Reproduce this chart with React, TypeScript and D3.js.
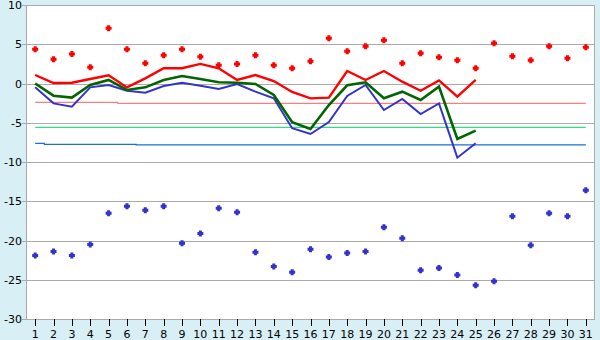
import React from "react";
import * as d3 from "d3";

const days = d3.range(1, 32).map(String);
const redPoints = [4.36, 3.08, 3.76, 2.06, 7.03, 4.36, 2.57, 3.59, 4.36, 3.4, 2.32, 2.48, 3.59, 2.32, 1.94, 2.83, 5.76, 4.1, 4.74, 5.5, 2.57, 3.85, 3.34, 2.96, 1.94, 5.12, 3.46, 2.96, 4.74, 3.21, 4.61];
const bluePoints = [-21.9, -21.4, -21.9, -20.5, -16.54, -15.65, -16.16, -15.65, -20.36, -19.1, -15.9, -16.4, -21.5, -23.3, -24.05, -21.1, -22.1, -21.6, -21.4, -18.3, -19.7, -23.8, -23.5, -24.4, -25.7, -25.2, -16.9, -20.6, -16.54, -16.9, -13.6];
const redLine = [1.08, 0.06, 0.1, 0.57, 1.04, -0.5, 0.66, 1.94, 1.94, 2.5, 1.94, 0.45, 1.08, 0.32, -1.08, -1.89, -1.8, 1.59, 0.45, 1.59, 0.23, -0.92, 0.4, -1.68, 0.45];
const greenLine = [0.0, -1.55, -1.8, -0.19, 0.45, -0.83, -0.49, 0.45, 0.96, 0.57, 0.15, 0.1, -0.06, -1.46, -4.94, -5.8, -2.74, -0.23, 0.15, -1.89, -1.04, -2.1, -0.4, -7.07, -6.0];
const blueLine = [-0.49, -2.53, -2.95, -0.49, -0.19, -0.92, -1.17, -0.32, 0.1, -0.3, -0.7, -0.06, -1.04, -1.89, -5.7, -6.43, -4.9, -1.59, -0.19, -3.38, -1.97, -3.89, -2.53, -9.45, -7.62];
const pinkRef = [-2.4, -2.4, -2.4, -2.4, -2.4, -2.53, -2.53, -2.53, -2.53, -2.53, -2.53, -2.53, -2.53, -2.53, -2.53, -2.53, -2.53, -2.53, -2.53, -2.53, -2.53, -2.53, -2.53, -2.53, -2.53, -2.53, -2.53, -2.53, -2.53, -2.53, -2.53];
const greenRef = days.map(() => -5.58);
const blueRef = [-7.62, -7.75, -7.75, -7.75, -7.75, -7.75, -7.83, -7.83, -7.83, -7.83, -7.83, -7.83, -7.83, -7.83, -7.83, -7.83, -7.83, -7.83, -7.83, -7.83, -7.83, -7.83, -7.83, -7.83, -7.83, -7.83, -7.83, -7.83, -7.83, -7.83, -7.83];
const yTicks = [10, 5, 0, -5, -10, -15, -20, -25, -30];

const W = 600, H = 340;
const L = 26, R = 595, T = 5, B = 319;

export default function App() {
  const x = d3.scaleBand<string>().domain(days).range([L, R]);
  const cx = (i: number) => (x(days[i]) as number) + x.bandwidth() / 2;
  const y = d3.scaleLinear().domain([-30, 10]).range([B, T]);

  const line = (vals: number[], curve = d3.curveLinear) =>
    d3.line<number>().x((_, i) => cx(i)).y((v) => y(v)).curve(curve)(vals) || "";

  const marker = "M-1.5,-3h3v1.5h1.5v3h-1.5v1.5h-3v-1.5h-1.5v-3h1.5z";
  const font = "'DejaVu Sans', Verdana, sans-serif";

  return (
    <div style={{ position: "fixed", left: 0, top: 0 }}>
      <svg width={W} height={H} style={{ display: "block" }}>
        <rect x={0} y={0} width={W} height={H} fill="#d9eff6" />
        <rect x={L} y={T} width={R - L} height={B - T} fill="#ffffff" />
        {yTicks.map((t) => (
          <g key={t}>
            <line x1={L - 4} x2={R} y1={Math.round(y(t)) + 0.5} y2={Math.round(y(t)) + 0.5} stroke="#aaaaaa" strokeWidth={1} />
            <text x={22} y={y(t) + 4} textAnchor="end" fontFamily={font} fontSize={11} fill="#000">{t}</text>
          </g>
        ))}
        <line x1={L + 0.5} x2={L + 0.5} y1={T} y2={B} stroke="#aaaaaa" />
        <line x1={R - 0.5} x2={R - 0.5} y1={T} y2={B} stroke="#aaaaaa" />
        <line x1={L} x2={R} y1={B + 0.5} y2={B + 0.5} stroke="#aaaaaa" />
        {days.map((d, i) => (
          <g key={d}>
            <line x1={Math.round(cx(i)) + 0.5} x2={Math.round(cx(i)) + 0.5} y1={B} y2={B + 7} stroke="#000" />
            <text x={cx(i)} y={338} textAnchor="middle" fontFamily={font} fontSize={11} fill="#000">{d}</text>
          </g>
        ))}
        <path d={line(pinkRef, d3.curveStep)} fill="none" stroke="#f58080" strokeWidth={1.1} />
        <path d={line(greenRef, d3.curveStep)} fill="none" stroke="#33dd88" strokeWidth={1.2} />
        <path d={line(blueRef, d3.curveStep)} fill="none" stroke="#1a70d8" strokeWidth={1.2} />
        <path d={line(blueLine)} fill="none" stroke="#3333cc" strokeWidth={2} />
        <path d={line(greenLine)} fill="none" stroke="#006600" strokeWidth={2.6} />
        <path d={line(redLine)} fill="none" stroke="#ff0000" strokeWidth={2.4} />
        {redPoints.map((v, i) => (
          <path key={"r" + i} d={marker} transform={`translate(${cx(i)},${y(v)})`} fill="#ff0000" />
        ))}
        {bluePoints.map((v, i) => (
          <path key={"b" + i} d={marker} transform={`translate(${cx(i)},${y(v)})`} fill="#3333cc" />
        ))}
      </svg>
    </div>
  );
}
